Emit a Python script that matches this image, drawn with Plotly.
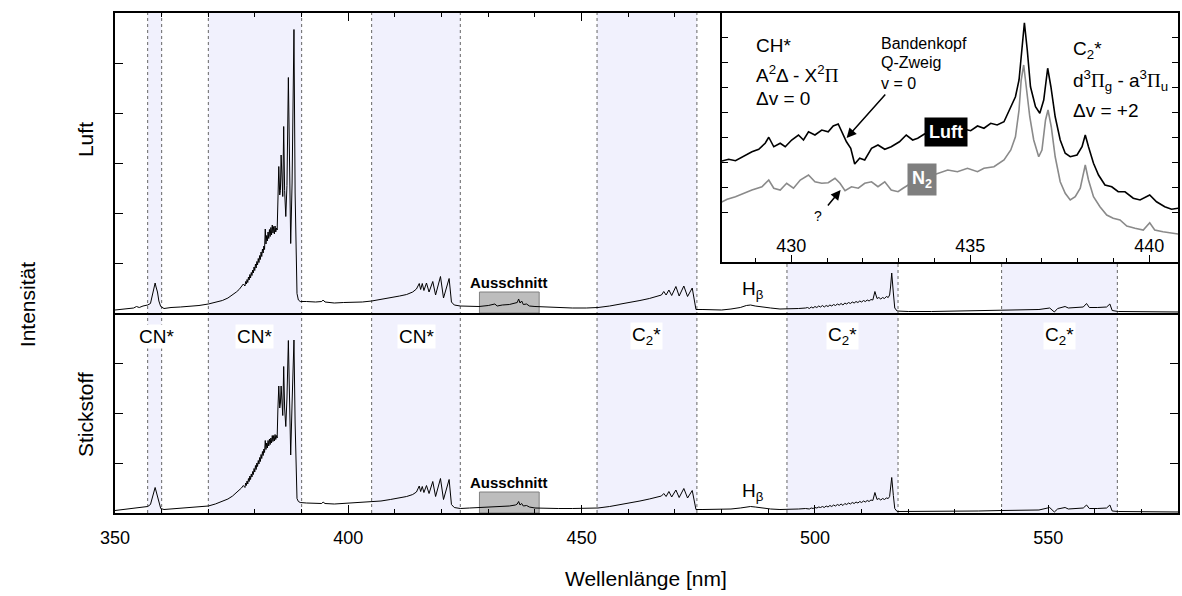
import plotly.graph_objects as go

FONT = "Liberation Sans, Arial, sans-serif"

# ---------------------------------------------------------------------------
# Survey spectra: wavelength grid (nm) and intensities (arb. units)
# ---------------------------------------------------------------------------
wl_main = [
    350.0, 351.0, 352.0, 353.0, 354.0, 354.6, 355.2, 356.0, 357.0, 357.6, 358.0, 358.3, 358.6, 358.8, 359.1, 359.4, 359.8, 360.5,
    362.0, 364.0, 366.0, 368.0, 370.0, 371.5, 373.0, 374.2, 375.2, 376.0, 376.6, 377.1, 377.5,
    377.85, 378.00, 378.15, 378.30, 378.45, 378.60, 378.75, 378.90, 379.05, 379.20,
    379.35, 379.50, 379.65, 379.80, 379.95, 380.10, 380.25, 380.40, 380.55, 380.70,
    380.85, 381.00, 381.15, 381.30, 381.45, 381.60, 381.75, 381.90, 382.05, 382.20,
    382.35, 382.50, 382.65, 382.80, 382.95, 383.10, 383.25, 383.40, 383.55, 383.70,
    383.85, 384.00, 384.15, 384.30, 384.45, 384.60, 384.75,
    384.9, 385.1, 385.3, 385.45, 385.6, 385.8, 385.95, 386.15, 386.35, 386.6, 386.85, 387.15, 387.4, 387.65, 387.95, 388.35, 388.6, 388.8, 389.0, 389.3, 389.7,
    391.0, 393.0, 394.3, 394.6, 395.0, 397.0, 399.0, 401.0, 403.0, 405.0, 407.0, 409.0, 411.0, 412.5, 413.8, 414.6,
    415.2, 415.5, 415.85, 416.2, 416.75, 417.3, 418.1, 418.7, 419.75, 420.4, 421.6, 422.1, 422.7, 424.0, 426.0, 428.0,
    430.0, 431.4, 431.9, 433.0, 434.5, 435.8, 436.2, 436.5, 436.8, 437.15, 437.5, 438.2, 438.8, 440.0, 442.0, 445.0, 448.0, 451.0, 453.5, 456.0, 458.5, 460.5, 462.5, 464.5, 466.0,
    467.1, 467.6, 468.1, 468.7, 469.3, 470.2, 470.9, 471.9, 472.7, 473.7, 474.1, 474.5,
    476.0, 478.0, 480.0, 482.0, 484.0, 485.3, 486.2, 487.2, 488.5, 490.5, 492.5, 494.5, 496.5, 498.0,
    498.4, 498.8, 499.2, 499.6, 500.0, 500.4, 500.8, 501.2, 501.6, 502.0,
    502.4, 502.8, 503.2, 503.6, 504.0, 504.4, 504.8, 505.2, 505.6, 506.0,
    506.4, 506.8, 507.2, 507.6, 508.0, 508.4, 508.8, 509.2, 509.6, 510.0,
    510.4, 510.8, 511.2, 511.6, 512.0, 512.4,
    512.85, 513.3, 513.7, 514.1, 514.5, 514.9, 515.3, 515.7, 516.0, 516.2, 516.45, 516.8, 517.1, 517.6,
    520.0, 525.0, 530.0, 535.0, 540.0, 544.0, 548.0, 550.3, 550.9, 551.3, 552.0, 553.6, 554.3, 556.0, 557.5, 558.2, 558.8, 560.5, 562.5, 563.2, 563.7, 565.0, 570.0, 575.0, 578.0,
]

int_luft = [
    0.06, 0.07, 0.07, 0.09, 0.10, 0.13, 0.11, 0.14, 0.16, 0.19, 0.36, 0.52, 0.60, 0.52, 0.42, 0.24, 0.13, 0.09,
    0.11, 0.12, 0.13, 0.15, 0.18, 0.21, 0.25, 0.30, 0.36, 0.42, 0.47, 0.52, 0.58,
    0.54, 0.63, 0.58, 0.67, 0.61, 0.72, 0.66, 0.77, 0.70, 0.81,
    0.75, 0.86, 0.80, 0.92, 0.85, 0.98, 0.90, 1.03, 0.96, 1.09,
    1.01, 1.15, 1.07, 1.22, 1.13, 1.28, 1.20, 1.34, 1.27, 1.68,
    1.38, 1.55, 1.44, 1.62, 1.49, 1.67, 1.53, 1.71, 1.56, 1.76,
    1.60, 1.73, 1.58, 1.74, 1.62, 1.70, 1.66,
    2.06, 2.93, 2.36, 2.45, 3.16, 2.40, 2.33, 3.73, 2.45, 1.93, 2.55, 4.71, 2.30, 1.39, 2.60, 5.67, 2.40, 1.00, 0.39, 0.26, 0.23,
    0.23, 0.22, 0.23, 0.26, 0.22, 0.20, 0.21, 0.21, 0.22, 0.24, 0.27, 0.30, 0.34, 0.37, 0.42, 0.48,
    0.59, 0.47, 0.59, 0.45, 0.60, 0.42, 0.63, 0.36, 0.73, 0.30, 0.69, 0.22, 0.16, 0.14, 0.13, 0.13,
    0.15, 0.18, 0.14, 0.16, 0.17, 0.19, 0.21, 0.28, 0.20, 0.24, 0.17, 0.18, 0.14, 0.13, 0.12, 0.10, 0.10, 0.10, 0.11, 0.14, 0.18, 0.21, 0.25, 0.29, 0.33,
    0.36, 0.43, 0.36, 0.46, 0.35, 0.53, 0.34, 0.54, 0.33, 0.50, 0.25, 0.07,
    0.07, 0.06, 0.06, 0.08, 0.11, 0.15, 0.16, 0.14, 0.12, 0.10, 0.08, 0.08, 0.09, 0.10,
    0.11, 0.09, 0.12, 0.10, 0.13, 0.11, 0.14, 0.12, 0.15, 0.12,
    0.15, 0.13, 0.16, 0.14, 0.17, 0.15, 0.18, 0.16, 0.19, 0.16,
    0.20, 0.18, 0.21, 0.19, 0.22, 0.20, 0.23, 0.21, 0.24, 0.22,
    0.25, 0.23, 0.26, 0.24, 0.27, 0.26,
    0.43, 0.29, 0.31, 0.28, 0.31, 0.29, 0.33, 0.31, 0.36, 0.52, 0.80, 0.40, 0.10, 0.04,
    0.03, 0.03, 0.04, 0.04, 0.05, 0.06, 0.07, 0.10, 0.06, 0.02, 0.09, 0.13, 0.10, 0.11, 0.12, 0.19, 0.11, 0.11, 0.12, 0.18, 0.05, 0.03, 0.03, 0.02, 0.02,
]

int_stickstoff = [
    0.05, 0.06, 0.07, 0.08, 0.09, 0.10, 0.10, 0.11, 0.13, 0.17, 0.32, 0.45, 0.51, 0.44, 0.33, 0.18, 0.09, 0.07,
    0.08, 0.09, 0.10, 0.12, 0.14, 0.18, 0.23, 0.28, 0.34, 0.40, 0.45, 0.50, 0.55,
    0.51, 0.60, 0.55, 0.64, 0.58, 0.69, 0.63, 0.74, 0.67, 0.78,
    0.72, 0.83, 0.77, 0.89, 0.82, 0.95, 0.87, 1.00, 0.93, 1.05,
    0.98, 1.11, 1.03, 1.17, 1.09, 1.23, 1.15, 1.28, 1.21, 1.45,
    1.27, 1.40, 1.30, 1.45, 1.34, 1.48, 1.37, 1.50, 1.40, 1.55,
    1.43, 1.55, 1.44, 1.57, 1.47, 1.55, 1.50,
    2.06, 2.54, 2.10, 2.20, 2.54, 2.05, 1.95, 2.93, 2.10, 1.73, 2.30, 3.45, 2.00, 1.16, 2.20, 3.46, 1.80, 0.70, 0.29, 0.23, 0.21,
    0.20, 0.19, 0.19, 0.22, 0.19, 0.18, 0.19, 0.20, 0.21, 0.22, 0.24, 0.27, 0.30, 0.33, 0.37, 0.42,
    0.54, 0.43, 0.53, 0.41, 0.55, 0.39, 0.63, 0.33, 0.69, 0.27, 0.67, 0.17, 0.11, 0.09, 0.10, 0.11,
    0.12, 0.13, 0.12, 0.14, 0.14, 0.16, 0.18, 0.23, 0.16, 0.19, 0.14, 0.15, 0.12, 0.10, 0.09, 0.09, 0.09, 0.09, 0.10, 0.13, 0.17, 0.20, 0.24, 0.28, 0.31,
    0.34, 0.39, 0.33, 0.43, 0.32, 0.46, 0.31, 0.49, 0.30, 0.45, 0.22, 0.07,
    0.07, 0.07, 0.07, 0.08, 0.10, 0.12, 0.13, 0.12, 0.10, 0.08, 0.07, 0.07, 0.08, 0.09,
    0.09, 0.08, 0.10, 0.09, 0.11, 0.10, 0.12, 0.11, 0.13, 0.11,
    0.14, 0.12, 0.15, 0.13, 0.16, 0.14, 0.17, 0.15, 0.18, 0.15,
    0.19, 0.17, 0.20, 0.18, 0.21, 0.19, 0.22, 0.20, 0.23, 0.21,
    0.24, 0.22, 0.25, 0.23, 0.26, 0.25,
    0.41, 0.27, 0.29, 0.26, 0.29, 0.27, 0.30, 0.29, 0.33, 0.48, 0.71, 0.35, 0.09, 0.03,
    0.03, 0.03, 0.04, 0.04, 0.05, 0.06, 0.06, 0.11, 0.06, 0.02, 0.08, 0.11, 0.08, 0.09, 0.10, 0.16, 0.09, 0.09, 0.10, 0.16, 0.04, 0.03, 0.03, 0.02, 0.02,
]

# ---------------------------------------------------------------------------
# Detail window 428-441 nm (CH* A-X band head and C2* Swan dv=+2)
# ---------------------------------------------------------------------------
wl_detail_luft = [
    427.98, 428.25, 428.44, 428.63, 428.90, 429.09, 429.27, 429.37, 429.51, 429.69, 429.83, 430.01,
    430.20, 430.34, 430.48, 430.66, 430.85, 431.03, 431.17, 431.31, 431.42, 431.54, 431.66, 431.77,
    431.91, 432.05, 432.24, 432.42, 432.61, 432.79, 433.02, 433.21, 433.39, 433.53, 433.72, 433.90,
    434.08, 434.27, 434.45, 434.64, 434.82, 435.01, 435.20, 435.38, 435.57, 435.75, 435.94, 436.13,
    436.26, 436.36, 436.45, 436.51, 436.59, 436.68, 436.82, 436.94, 437.05, 437.16, 437.25, 437.37,
    437.51, 437.65, 437.79, 437.98, 438.12, 438.21, 438.30, 438.44, 438.58, 438.76, 438.95, 439.13,
    439.32, 439.55, 439.74, 440.01, 440.20, 440.43, 440.62, 440.81,
]
int_detail_luft = [
    4.01, 4.11, 4.05, 4.21, 4.41, 4.51, 4.75, 4.99, 4.61, 4.75, 4.61, 4.88,
    5.08, 4.88, 5.21, 5.08, 5.28, 5.21, 5.44, 5.52, 5.15, 4.81, 4.55, 3.92,
    4.15, 4.08, 4.55, 4.68, 4.51, 4.61, 4.81, 5.08, 4.88, 4.95, 5.12, 5.02,
    5.22, 5.10, 5.26, 5.18, 5.32, 5.25, 5.44, 5.35, 5.55, 5.48, 5.61, 6.21,
    6.61, 7.28, 8.61, 9.57, 8.48, 7.01, 6.21, 5.95, 6.48, 7.75, 7.01, 5.81,
    4.88, 4.35, 4.21, 4.28, 4.61, 5.08, 4.61, 3.95, 3.48, 3.08, 3.01, 2.81,
    2.81, 2.55, 2.48, 2.68, 2.41, 2.21, 2.11, 2.15,
]

wl_detail_n2 = [
    427.98, 428.21, 428.44, 428.67, 428.90, 429.18, 429.37, 429.51, 429.69, 429.87, 430.06, 430.25,
    430.48, 430.66, 430.85, 431.03, 431.22, 431.36, 431.50, 431.68, 431.87, 432.05, 432.24, 432.42,
    432.61, 432.79, 432.98, 433.12, 433.40, 433.70, 434.13, 434.37, 434.64, 434.92, 435.20, 435.38,
    435.66, 435.94, 436.13, 436.26, 436.36, 436.42, 436.49, 436.57, 436.66, 436.77, 436.91, 437.00,
    437.10, 437.17, 437.26, 437.37, 437.51, 437.65, 437.79, 437.93, 438.07, 438.21, 438.30, 438.44,
    438.62, 438.81, 438.99, 439.18, 439.37, 439.60, 439.83, 440.01, 440.15, 440.38, 440.62, 440.81,
]
int_detail_n2 = [
    2.35, 2.51, 2.61, 2.75, 2.88, 3.01, 3.28, 2.95, 2.88, 3.15, 2.95, 3.28,
    3.48, 3.21, 3.15, 3.17, 3.35, 3.15, 2.85, 3.01, 2.95, 3.15, 3.21, 3.01,
    3.21, 2.88, 2.81, 2.95, 3.20, 3.35, 3.55, 3.68, 3.61, 3.75, 3.61, 3.75,
    3.81, 4.08, 4.48, 5.01, 6.08, 7.28, 7.88, 7.01, 5.81, 4.88, 4.21, 4.48,
    5.68, 6.08, 5.41, 4.21, 3.21, 2.75, 2.48, 2.61, 2.95, 3.88, 3.28, 2.61,
    2.21, 1.88, 1.75, 1.68, 1.44, 1.35, 1.28, 1.57, 1.28, 1.21, 1.15, 1.12,
]

# Band regions (nm)
band_regions = [
    (357.0, 360.0), (370.0, 390.0), (405.0, 424.0),
    (453.3, 474.7), (494.0, 517.8), (540.0, 564.8),
]
band_names = ["CN*", "CN*", "CN*", "C<sub>2</sub>*", "C<sub>2</sub>*", "C<sub>2</sub>*"]
band_label_x = [358.8, 380.0, 414.6, 464.0, 505.8, 552.4]

ausschnitt = (428.1, 440.9)
h_beta = 486.7
main_ticks = [350, 400, 450, 500, 550]
detail_ticks = [430, 435, 440]

assert len(wl_main) == len(int_luft) == len(int_stickstoff)
assert len(wl_detail_luft) == len(int_detail_luft)
assert len(wl_detail_n2) == len(int_detail_n2)

# ---------------------------------------------------------------------------
# Geometry (pixels)
# ---------------------------------------------------------------------------
W, H = 1182, 596
ML, MR, MT, MB = 115, 2, 13, 83
PW, PH = W - ML - MR, H - MT - MB


def px_x(px):
    return (px - ML) / PW


def px_y(py):
    return (H - MB - py) / PH


fig = go.Figure()

fig.add_trace(go.Scatter(x=wl_main, y=int_stickstoff, xaxis="x", yaxis="y", mode="lines",
                         line=dict(color="black", width=1), showlegend=False, hoverinfo="skip"))
fig.add_trace(go.Scatter(x=wl_main, y=int_luft, xaxis="x2", yaxis="y2", mode="lines",
                         line=dict(color="black", width=1), showlegend=False, hoverinfo="skip"))
fig.add_trace(go.Scatter(x=wl_detail_n2, y=int_detail_n2, xaxis="x3", yaxis="y3", mode="lines",
                         line=dict(color="#8a8a8a", width=1.6), showlegend=False, hoverinfo="skip"))
fig.add_trace(go.Scatter(x=wl_detail_luft, y=int_detail_luft, xaxis="x3", yaxis="y3", mode="lines",
                         line=dict(color="black", width=1.6), showlegend=False, hoverinfo="skip"))

shapes = []
for a, b in band_regions:
    shapes.append(dict(type="rect", xref="x", yref="paper", x0=a, x1=b, y0=0, y1=1,
                       fillcolor="#f1f1fd", line=dict(width=0), layer="below"))
for a, b in band_regions:
    for edge in (a, b):
        shapes.append(dict(type="line", xref="x", yref="paper", x0=edge, x1=edge, y0=0, y1=1,
                           line=dict(color="#666666", width=1, dash="3px,3px"), layer="below"))
for xr, yr in (("x", "y"), ("x2", "y2")):
    shapes.append(dict(type="rect", xref=xr, yref=yr, x0=ausschnitt[0], x1=ausschnitt[1], y0=0, y1=0.42,
                       fillcolor="#bdbdbd", line=dict(color="#808080", width=1), layer="below"))

tickfont = dict(family=FONT, size=18, color="black")
common_x = dict(range=[350, 577.8], tickvals=main_ticks, ticks="inside", ticklen=8, tickwidth=1.2,
                tickcolor="black", showline=True, linecolor="black", linewidth=1.6,
                showgrid=False, zeroline=False,
                minor=dict(tickvals=list(range(350, 580, 10)), ticks="inside", ticklen=4,
                           tickwidth=1.2, tickcolor="black"))
common_y = dict(dtick=1, tick0=0, ticks="inside", ticklen=8, tickwidth=1.2, tickcolor="black",
                showticklabels=False, showline=True, linecolor="black", linewidth=1.6,
                mirror="ticks", showgrid=False, zeroline=False)

annotations = []


def label(text, px, py, size=18, xanchor="center", **kw):
    d = dict(text=text, xref="paper", yref="paper", x=px_x(px), y=px_y(py), showarrow=False,
             xanchor=xanchor, yanchor="middle",
             font=dict(family=FONT, size=size, color=kw.pop("color", "black")))
    d.update(kw)
    annotations.append(d)


# Axis titles
label("Intensität", 27, 305, size=21, textangle=-90)
label("Luft", 85, 140, size=21, textangle=-90)
label("Stickstoff", 85, 415, size=21, textangle=-90)
label("Wellenlänge [nm]", 647, 578, size=21)

# Band labels (bottom panel)
for name, bx in zip(band_names, band_label_x):
    annotations.append(dict(text=name, xref="x", yref="paper", x=bx, y=px_y(336), showarrow=False,
                            xanchor="center", yanchor="middle", bgcolor="white", borderpad=1,
                            font=dict(family=FONT, size=19, color="black")))

# Detail window markers and H-beta
for py_a, py_h in ((282, 290), (482, 492)):
    annotations.append(dict(text="<b>Ausschnitt</b>", xref="x", yref="paper",
                            x=(ausschnitt[0] + ausschnitt[1]) / 2, y=px_y(py_a), showarrow=False,
                            xanchor="center", yanchor="middle",
                            font=dict(family=FONT, size=15, color="black")))
    annotations.append(dict(text="H<sub>β</sub>", xref="x", yref="paper", x=h_beta, y=px_y(py_h),
                            showarrow=False, xanchor="center", yanchor="middle",
                            font=dict(family=FONT, size=19, color="black")))

# Inset texts
PI = "<span style=\"font-family:Liberation Serif\">Π</span>"
label("CH*", 755, 46, size=19, xanchor="left")
label("A<sup>2</sup>Δ - X<sup>2</sup>" + PI, 755, 74, size=19, xanchor="left")
label("Δv = 0", 755, 98, size=19, xanchor="left")
label("Bandenkopf", 880, 43, size=16, xanchor="left")
label("Q-Zweig", 880, 63, size=16, xanchor="left")
label("v = 0", 880, 83, size=16, xanchor="left")
label("C<sub>2</sub>*", 1073, 50, size=19, xanchor="left")
label("d<sup>3</sup>" + PI + "<sub>g</sub> - a<sup>3</sup>" + PI + "<sub>u</sub>", 1073, 80, size=19,
      xanchor="left")
label("Δv = +2", 1073, 111, size=19, xanchor="left")
label("<b>Luft</b>", 948, 132, size=18, color="white", bgcolor="black", borderpad=4)
label("<b>N<sub>2</sub></b>", 924, 180, size=18, color="white", bgcolor="#7f7f7f", borderpad=4)
label("?", 819, 216, size=14)

# Arrows
annotations.append(dict(text="", xref="paper", yref="paper", x=px_x(848), y=px_y(138),
                        ax=40, ay=-45, showarrow=True, arrowhead=2, arrowsize=1.3,
                        arrowwidth=1.5, arrowcolor="black"))
annotations.append(dict(text="", xref="paper", yref="paper", x=px_x(842), y=px_y(190),
                        ax=-14, ay=17, showarrow=True, arrowhead=2, arrowsize=1.3,
                        arrowwidth=1.5, arrowcolor="black"))

fig.update_layout(
    width=W, height=H,
    margin=dict(l=ML, r=MR, t=MT, b=MB, pad=0),
    paper_bgcolor="white", plot_bgcolor="white",
    font=dict(family=FONT, color="black"),
    xaxis=dict(domain=[0, 1], anchor="y", side="bottom", showticklabels=True, mirror=False,
               tickfont=tickfont, ticklabelstandoff=8, **common_x),
    yaxis=dict(domain=[0, 0.4], anchor="x", range=[0, 4], **common_y),
    xaxis2=dict(domain=[0, 1], anchor="y2", side="top", showticklabels=False, mirror=True, **common_x),
    yaxis2=dict(domain=[0.4, 1], anchor="x2", range=[0, 6], **common_y),
    xaxis3=dict(domain=[px_x(723), 1], anchor="y3", range=[428.06, 440.8], tickvals=detail_ticks,
                ticks="inside", ticklen=7, tickwidth=1.2, tickcolor="black",
                ticklabelposition="inside", tickfont=tickfont,
                showline=True, linecolor="black", linewidth=1.6, mirror=True,
                showgrid=False, zeroline=False,
                minor=dict(tickvals=list(range(429, 441)), ticks="inside", ticklen=4,
                           tickwidth=1.2, tickcolor="black")),
    yaxis3=dict(domain=[px_y(262), 1], anchor="x3", range=[0, 9.96], dtick=1, tick0=0,
                ticks="inside", ticklen=6, tickwidth=1.2, tickcolor="black",
                showticklabels=False, showline=True, linecolor="black", linewidth=1.6,
                mirror="ticks", showgrid=False, zeroline=False),
    shapes=shapes,
    annotations=annotations,
)

fig.write_html("out.html")
